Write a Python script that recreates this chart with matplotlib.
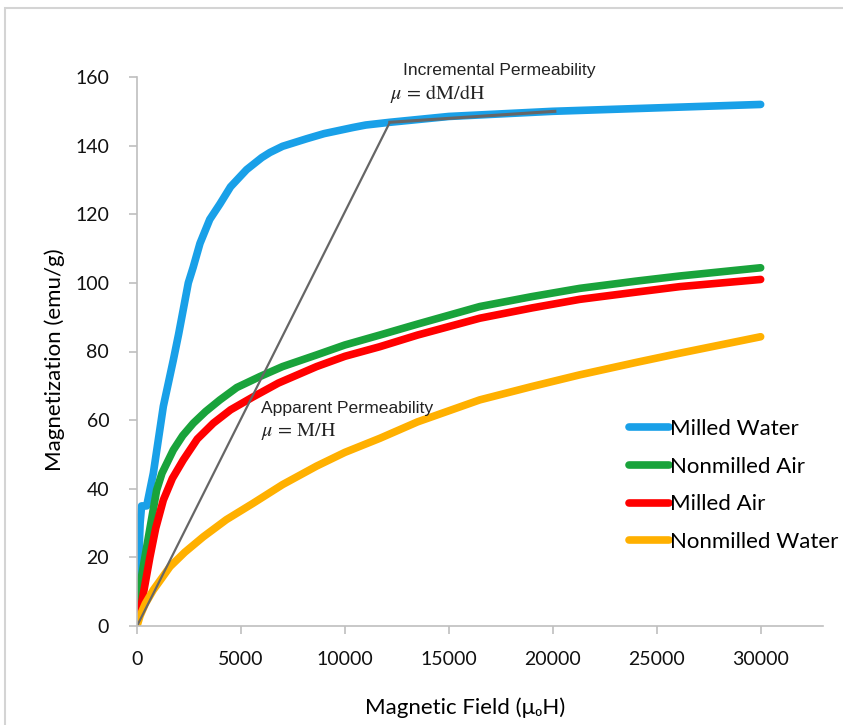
import numpy as np
import matplotlib
matplotlib.use("Agg")
import matplotlib.pyplot as plt
from matplotlib.patches import Rectangle

plt.rcParams["mathtext.fontset"] = "stix"

# magnetization curves (H in uoH, M in emu/g)
h_milled_water = [0, 150, 220, 465, 785, 1266, 1747, 2000, 2468, 2700, 3029,
                  3500, 3990, 4500, 5272, 6000, 6394, 7000, 8157, 9000,
                  10400, 11000, 12163, 15000, 20000, 25000, 30000]
m_milled_water = [5, 30, 35, 35, 44.5, 64, 77.5, 85, 100, 104.5, 111.5,
                  118.5, 123, 128, 133, 136.5, 138, 139.8, 142, 143.5,
                  145.3, 146, 146.8, 148.5, 150, 151, 152]

h_nonmilled_air = [0, 150, 465, 945, 1200, 1747, 2200, 2708, 3300, 3990,
                   4800, 5913, 7000, 8638, 10000, 11683, 13500, 16490,
                   19000, 21300, 24000, 26106, 30000]
m_nonmilled_air = [3, 12, 23, 39.6, 44.5, 51.3, 55.5, 59.1, 62.5, 65.9,
                   69.5, 72.7, 75.6, 79.0, 81.9, 84.8, 88, 93.1,
                   96, 98.4, 100.5, 102, 104.4]

h_milled_air = [0, 144, 625, 900, 1266, 1700, 2226, 2900, 3670, 4500, 5593,
                6800, 8638, 10000, 11683, 13500, 16490, 19000, 21300,
                24000, 26106, 30000]
m_milled_air = [2, 4, 20.2, 28.5, 36.7, 43, 48.4, 54.5, 59.1, 63, 66.8,
                70.8, 75.6, 78.6, 81.4, 84.8, 89.7, 92.7, 95.2,
                97.3, 98.9, 101]

h_nonmilled_water = [0, 150, 400, 785, 1200, 1587, 2300, 3190, 4300, 5593,
                     7000, 8638, 10000, 11683, 13500, 16490, 19000, 21300,
                     24000, 26106, 30000]
m_nonmilled_water = [0, 3, 6.5, 10.5, 14, 17.3, 21.5, 26, 31, 35.8,
                     41.2, 46.6, 50.6, 54.7, 59.5, 65.9, 69.8, 73.2,
                     76.8, 79.5, 84.3]

# permeability construction lines
h_apparent = [0, 12163]
m_apparent = [0, 146.8]
h_incremental = [12163, 20100]
m_incremental = [146.8, 150]

xticks = [0, 5000, 10000, 15000, 20000, 25000, 30000]
yticks = [0, 20, 40, 60, 80, 100, 120, 140, 160]

W, H = 843, 725
fig = plt.figure(figsize=(W / 100, H / 100), dpi=100)
ax = fig.add_axes([137 / W, 1 - 626 / H, (823 - 137) / W, (626 - 77) / H])

# light frame around the whole figure
fig.patches.append(Rectangle((5 / W, -0.01), 1.0, 1 - 8 / H + 0.01,
                             transform=fig.transFigure, fill=False,
                             edgecolor="#d4d4d4", linewidth=1.5))

lw = 5.5
ax.plot(h_milled_water, m_milled_water, color="#19a0e8", lw=lw,
        solid_capstyle="round", solid_joinstyle="round", label="Milled Water")
ax.plot(h_nonmilled_air, m_nonmilled_air, color="#19a33b", lw=lw,
        solid_capstyle="round", solid_joinstyle="round", label="Nonmilled Air")
ax.plot(h_milled_air, m_milled_air, color="#ff0000", lw=lw,
        solid_capstyle="round", solid_joinstyle="round", label="Milled Air")
ax.plot(h_nonmilled_water, m_nonmilled_water, color="#ffb000", lw=lw,
        solid_capstyle="round", solid_joinstyle="round", label="Nonmilled Water")

ax.plot(h_apparent, m_apparent, color="#666666", lw=1.6)
ax.plot(h_incremental, m_incremental, color="#666666", lw=2.2)

ax.set_xlim(0, 33000)
ax.set_ylim(0, 160)
ax.set_xticks(xticks)
ax.set_yticks(yticks)

for s in ["top", "right"]:
    ax.spines[s].set_visible(False)
for s in ["left", "bottom"]:
    ax.spines[s].set_color("#bfbfbf")
    ax.spines[s].set_linewidth(1.2)
ax.tick_params(length=6, width=1.2, color="#bfbfbf", labelsize=14,
               labelcolor="#111111")
ax.tick_params(axis="y", pad=14)
ax.tick_params(axis="x", pad=12)
for lab in ax.get_xticklabels() + ax.get_yticklabels():
    lab.set_family("Lato")

ax.set_xlabel("Magnetic Field (μ\u2080H)", fontsize=16, family="Lato")
ax.xaxis.set_label_coords((465 - 137) / (823 - 137), -(697 - 626) / (626 - 77))
ax.set_ylabel("Magnetization (emu/g)", fontsize=16, family="Lato")
ax.yaxis.set_label_coords(-(137 - 65) / (823 - 137), (626 - 360) / (626 - 77))

leg = ax.legend(loc="upper left", bbox_to_anchor=(620 / W, 1 - 410 / H),
                bbox_transform=fig.transFigure, frameon=False,
                prop={"family": "Lato", "size": 16}, handlelength=1.8,
                handletextpad=0.05, labelspacing=0.8, borderaxespad=0)

fig.text(403 / W, 1 - 71 / H, "Incremental Permeability", fontsize=12.6,
         family="Liberation Sans", color="#222222", va="center")
fig.text(390 / W, 1 - 94 / H, r"$\mu\,=\,\mathrm{dM/dH}$", fontsize=14.5,
         color="#222222", va="center")
fig.text(261 / W, 1 - 408 / H, "Apparent Permeability", fontsize=12.6,
         family="Liberation Sans", color="#222222", va="center")
fig.text(261 / W, 1 - 432 / H, r"$\mu\,=\,\mathrm{M/H}$", fontsize=14.5,
         color="#222222", va="center")

fig.savefig("out.png", dpi=100)
